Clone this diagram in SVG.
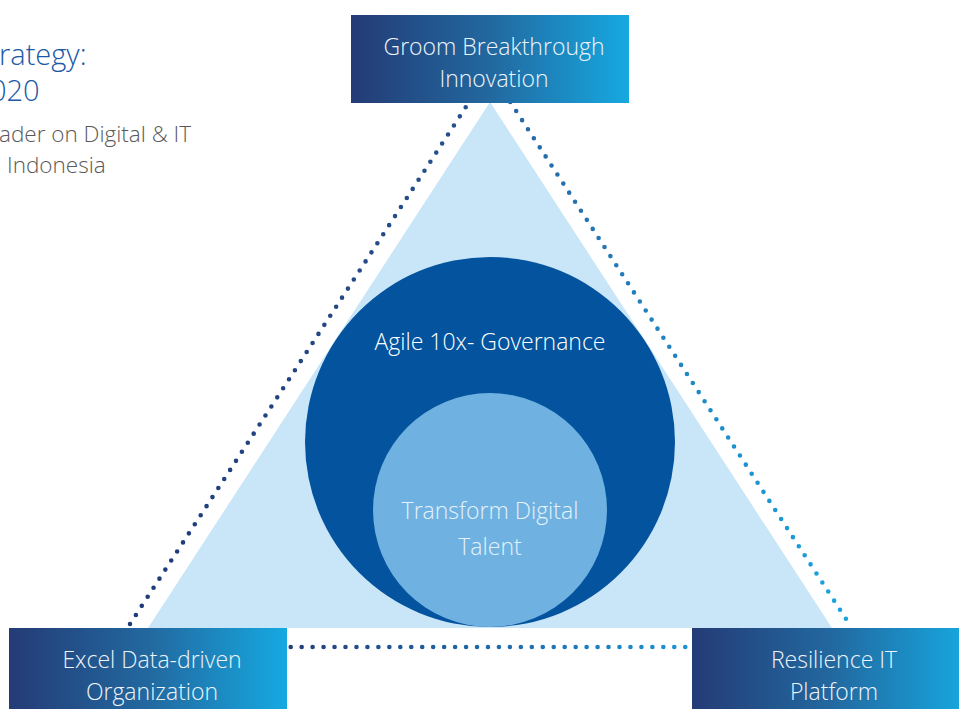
<svg xmlns="http://www.w3.org/2000/svg" width="959" height="709" viewBox="0 0 959 709">
  <defs>
    <linearGradient id="boxGrad" x1="0" y1="0" x2="1" y2="0">
      <stop offset="0" stop-color="#243b76"/>
      <stop offset="0.5" stop-color="#22689f"/>
      <stop offset="1" stop-color="#16a9e1"/>
    </linearGradient>
    <linearGradient id="leftDots" gradientUnits="userSpaceOnUse" x1="466" y1="107" x2="130" y2="624">
      <stop offset="0" stop-color="#26518e"/>
      <stop offset="1" stop-color="#1f3a78"/>
    </linearGradient>
    <linearGradient id="rightDots" gradientUnits="userSpaceOnUse" x1="510" y1="102" x2="852" y2="628">
      <stop offset="0" stop-color="#2866a6"/>
      <stop offset="1" stop-color="#18a6e0"/>
    </linearGradient>
    <linearGradient id="bottomDots" gradientUnits="userSpaceOnUse" x1="290" y1="647" x2="686" y2="647">
      <stop offset="0" stop-color="#223f7a"/>
      <stop offset="1" stop-color="#1b92d6"/>
    </linearGradient>
  </defs>
  <style>
    .dots { fill: none; stroke-width: 4.6; stroke-linecap: round; }
    .box { fill: url(#boxGrad); }
    .lbl { font-family: "Open Sans", "Liberation Sans", sans-serif; font-weight: 300; font-size: 23px; text-anchor: middle; }
    .boxlbl { fill: #eef4fb; }
    .title { font-family: "Open Sans", "Liberation Sans", sans-serif; font-weight: 300; font-size: 29px; fill: #1b59a6; }
    .sub { font-family: "Open Sans", "Liberation Sans", sans-serif; font-weight: 300; font-size: 22.5px; fill: #595959; }
  </style>

  <rect x="0" y="0" width="959" height="709" fill="#ffffff"/>

  <g id="heading">
    <text class="title" x="-1" y="65">rategy:</text>
    <text class="title" x="-10" y="101">020</text>
    <text class="sub" x="-1" y="141.5">ader on Digital &amp; IT</text>
    <text class="sub" x="7" y="173">Indonesia</text>
  </g>

  <g id="triangle">
    <polygon points="490,102 148,628 832,628" fill="#c9e6f8"/>
  </g>

  <g id="governance">
    <circle cx="490" cy="442" r="185" fill="#03539e"/>
    <text class="lbl" x="490" y="350" fill="#ffffff">Agile 10x- Governance</text>
  </g>

  <g id="talent">
    <circle cx="490" cy="510" r="117" fill="#6fb1e0"/>
    <text class="lbl" x="490" y="518.5" fill="#e4f1fb">Transform Digital</text>
    <text class="lbl" x="490" y="555" fill="#e4f1fb">Talent</text>
  </g>

  <g id="connectors">
    <line class="dots" x1="465.7" y1="107.3" x2="130" y2="624" stroke="url(#leftDots)" stroke-dasharray="0 10.81"/>
    <line class="dots" x1="510.3" y1="102" x2="851.7" y2="627.7" stroke="url(#rightDots)" stroke-dasharray="0 10.81"/>
    <line class="dots" x1="290.7" y1="647" x2="685.3" y2="647" stroke="url(#bottomDots)" stroke-dasharray="0 10.96"/>
  </g>

  <g id="innovation">
    <rect class="box" x="351" y="15" width="278" height="88"/>
    <text class="lbl boxlbl" x="494" y="55">Groom Breakthrough</text>
    <text class="lbl boxlbl" x="494" y="87">Innovation</text>
  </g>

  <g id="data-driven">
    <rect class="box" x="9" y="628" width="278" height="88"/>
    <text class="lbl boxlbl" x="152" y="668">Excel Data-driven</text>
    <text class="lbl boxlbl" x="152" y="700">Organization</text>
  </g>

  <g id="resilience">
    <rect class="box" x="692" y="628" width="278" height="88"/>
    <text class="lbl boxlbl" x="834" y="668">Resilience IT</text>
    <text class="lbl boxlbl" x="834" y="700">Platform</text>
  </g>
</svg>
